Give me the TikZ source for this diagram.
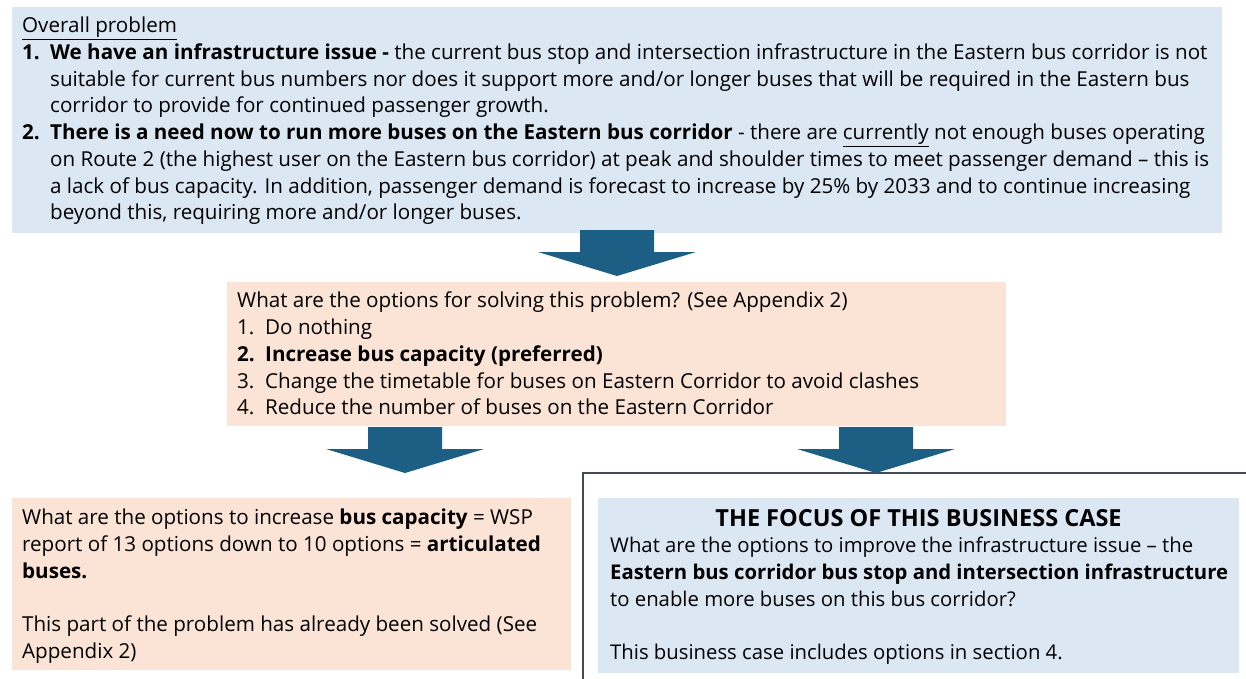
\documentclass[tikz,border=0pt]{standalone}
\usepackage{fontspec}
\setmainfont{Open Sans}
\usepackage{tikz}
\usetikzlibrary{positioning}
\definecolor{paleblue}{HTML}{DCE7F4}
\definecolor{peach}{HTML}{FBE3D6}
\definecolor{arrowblue}{HTML}{1D5F84}
\definecolor{framegray}{HTML}{414C56}

\newcommand{\itemno}[1]{\makebox[28pt][l]{#1}}
\newcommand{\hang}{\hspace*{28pt}}
% block arrow hanging down from a tail coordinate
\newcommand{\busarrow}[1]{%
  \fill[arrowblue] ([xshift=-37pt]#1) -- ([xshift=37pt]#1)
    -- ([xshift=37pt,yshift=-22pt]#1) -- ([xshift=79pt,yshift=-22pt]#1)
    -- ([yshift=-46pt]#1)
    -- ([xshift=-79pt,yshift=-22pt]#1) -- ([xshift=-37pt,yshift=-22pt]#1) -- cycle;}

\begin{document}
\begin{tikzpicture}[x=1pt,y=-1pt]
\tikzstyle{panel}=[inner sep=0pt,outer sep=0pt,anchor=north west]
\tikzstyle{words}=[inner sep=0pt,anchor=north west,align=left,font=\fontsize{20.6}{26.7}\selectfont]

\useasboundingbox (0,0) rectangle (1246,678);
\clip (0,0) rectangle (1246,678);

% boxes
\node[panel,fill=paleblue,minimum width=1210,minimum height=226](problem) at (12,7){};
\node[panel,fill=peach,minimum width=779,minimum height=144](options) at (227,282){};
\node[panel,fill=peach,minimum width=559,minimum height=172](capacity) at (12,498){};
\node[panel,draw=framegray,line width=1.5pt,minimum width=700,minimum height=240](frame) at (583,473){};
\node[panel,fill=paleblue,minimum width=641,minimum height=175](focus) at (598,498){};

% texts
\node[words](problemtext) at ([shift={(10,10)}]problem.north west){%
\underline{Overall problem}\\
\itemno{\textbf{1.}}\textbf{We have an infrastructure issue -} the current bus stop and intersection infrastructure in the Eastern bus corridor is not\\
\hang suitable for current bus numbers nor does it support more and/or longer buses that will be required in the Eastern bus\\
\hang corridor to provide for continued passenger growth.\\
\itemno{\textbf{2.}}\textbf{There is a need now to run more buses on the Eastern bus corridor} - there are \underline{currently} not enough buses operating\\
\hang on Route 2 (the highest user on the Eastern bus corridor) at peak and shoulder times to meet passenger demand – this is\\
\hang a lack of bus capacity. In addition, passenger demand is forecast to increase by 25\% by 2033 and to continue increasing\\
\hang beyond this, requiring more and/or longer buses.};

\node[words](optionstext) at ([shift={(10,10)}]options.north west){%
What are the options for solving this problem? (See Appendix 2)\\
\itemno{1.}Do nothing\\
\itemno{\textbf{2.}}\textbf{Increase bus capacity (preferred)}\\
\itemno{3.}Change the timetable for buses on Eastern Corridor to avoid clashes\\
\itemno{4.}Reduce the number of buses on the Eastern Corridor};

\node[words](capacitytext) at ([shift={(10,11)}]capacity.north west){%
What are the options to increase \textbf{bus capacity} = WSP\\
report of 13 options down to 10 options = \textbf{articulated}\\
\textbf{buses.}\\[26.7pt]
This part of the problem has already been solved (See\\
Appendix 2)};

\node[inner sep=0pt,anchor=north,font=\bfseries\fontsize{23.5}{26.7}\selectfont](focushead) at ([yshift=-11pt]focus.north){THE FOCUS OF THIS BUSINESS CASE};
\node[words,font=\fontsize{20.3}{26.7}\selectfont](focustext) at ([shift={(12,39)}]focus.north west){%
What are the options to improve the infrastructure issue – the\\
\textbf{Eastern bus corridor bus stop and intersection infrastructure}\\
to enable more buses on this bus corridor?\\[26.7pt]
This business case includes options in section 4.};

% arrows
\coordinate (tail1) at (617,230);
\coordinate (tail2) at (405,427);
\coordinate (tail3) at (876,427);
\busarrow{tail1}
\busarrow{tail2}
\busarrow{tail3}
\end{tikzpicture}
\end{document}
